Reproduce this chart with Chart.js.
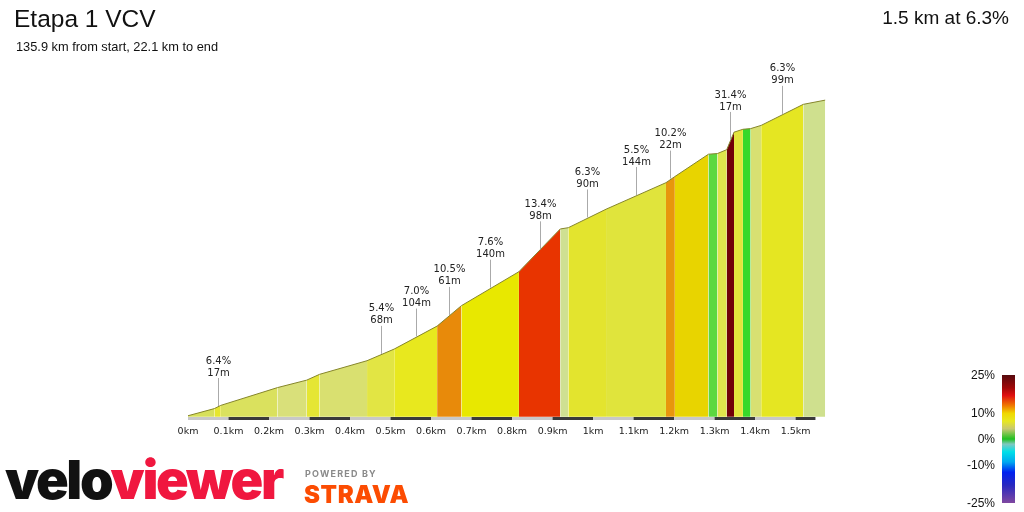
<!DOCTYPE html>
<html>
<head>
<meta charset="utf-8">
<script src="https://cdn.jsdelivr.net/npm/chart.js@4.4.1/dist/chart.umd.min.js"></script>
<style>
  body { margin: 0; background: #fff; }
  #page { position: relative; width: 1024px; height: 512px; overflow: hidden; font-family: "Liberation Sans", Arial, sans-serif; color: #111; }
  #profile { position: absolute; left: 0; top: 0; }
  .title { position: absolute; left: 14px; top: 7px; font-size: 24.5px; line-height: 1; white-space: nowrap; }
  .subtitle { position: absolute; left: 16px; top: 41px; font-size: 12.8px; line-height: 1; white-space: nowrap; }
  .summary { position: absolute; right: 15px; top: 8px; font-size: 19px; line-height: 1; white-space: nowrap; }
  .logo { position: absolute; left: 5px; top: 453px; font-family: Inter, Lato, sans-serif; font-weight: 900; font-size: 54px; line-height: 1; letter-spacing: -2.3px; white-space: nowrap; }
  .logo .velo { color: #111; }
  .logo .viewer { color: #f0173f; }
  .powered { position: absolute; left: 305px; top: 469px; font-family: Inter, "Liberation Sans", sans-serif; font-weight: 700; font-size: 9px; line-height: 1; letter-spacing: 1.2px; color: #8a8a8a; white-space: nowrap; }
  .strava { position: absolute; left: 304px; top: 483px; font-family: Inter, "Liberation Sans", sans-serif; font-weight: 900; font-size: 24px; line-height: 1; letter-spacing: 0.6px; color: #fc4c02; white-space: nowrap; }
  .key { position: absolute; left: 1002px; top: 375px; width: 13px; height: 128px; }
  .keylabel { position: absolute; right: 29px; font-size: 12px; line-height: 1; white-space: nowrap; color: #111; }
</style>
</head>
<body>
<div id="page">
  <canvas id="profile" width="1024" height="512"></canvas>
  <div class="title">Etapa 1 VCV</div>
  <div class="subtitle">135.9 km from start, 22.1 km to end</div>
  <div class="summary">1.5 km at 6.3%</div>
  <div class="logo"><span class="velo">velo</span><span class="viewer">viewer</span></div>
  <div class="powered">POWERED BY</div>
  <div class="strava">STRAVA</div>
  <div class="key" id="key"></div>
</div>
<script>
// profile vertices (km from climb start, metres gained)
var distanceKm = [0, 0.065, 0.081, 0.221, 0.293, 0.325, 0.442, 0.509, 0.615, 0.675, 0.817, 0.919, 0.939,
  1.032, 1.180, 1.202, 1.285, 1.307, 1.330, 1.348, 1.370, 1.389, 1.415, 1.519, 1.573];
var elevationM = [0.3, 2.5, 3.5, 9.0, 11.3, 13.1, 17.3, 20.9, 28.0, 34.3, 44.8, 58.0, 58.4,
  64.1, 72.3, 74.2, 81.1, 81.3, 82.5, 87.9, 88.8, 89.0, 90.0, 96.5, 97.8];

// one colour per segment between two vertices, by gradient
var bandColors = ['#d7e05c', '#e6e62e', '#dae15e', '#d9e07a', '#e5e634', '#d9e070', '#e2e544', '#e8e81e',
  '#e88a0a', '#e8e800', '#e83400', '#cfe092', '#e3e42e', '#e0e43c', '#e8960c', '#e8d400',
  '#5cd840', '#dfe44c', '#700008', '#e3e53c', '#38d82a', '#d8e072', '#e5e622', '#cfe08e'];

// labelled segments
var labelSegment = [1, 6, 7, 8, 9, 10, 12, 13, 14, 18, 22];
var labelGrade = ['6.4%', '5.4%', '7.0%', '10.5%', '7.6%', '13.4%', '6.3%', '5.5%', '10.2%', '31.4%', '6.3%'];
var labelLength = ['17m', '68m', '104m', '61m', '140m', '98m', '90m', '144m', '22m', '17m', '99m'];

var tickKm = [0, 0.1, 0.2, 0.3, 0.4, 0.5, 0.6, 0.7, 0.8, 0.9, 1, 1.1, 1.2, 1.3, 1.4, 1.5];
var distanceBarKm = [0, 0.1, 0.2, 0.3, 0.4, 0.5, 0.6, 0.7, 0.8, 0.9, 1, 1.1, 1.2, 1.3, 1.4, 1.5, 1.549];

// gradient key
var keyGrades = [25, 10, 0, -10, -25];
var keyStops = [[25, '#560a0e'], [20, '#a00808'], [17, '#e01010'], [13, '#f07a00'], [10, '#f0d800'],
  [7, '#e8e820'], [4, '#c8c870'], [0, '#20c020'], [-2, '#80c8c0'], [-5, '#00e0e8'], [-9, '#00a8f0'],
  [-13, '#0020f0'], [-18, '#2828c0'], [-25, '#8048a0']];

var key = document.getElementById('key');
key.style.background = 'linear-gradient(to bottom,' + keyStops.map(function (s) {
  return s[1] + ' ' + ((25 - s[0]) / 50 * 100).toFixed(1) + '%';
}).join(',') + ')';
keyGrades.forEach(function (g) {
  var el = document.createElement('div');
  el.className = 'keylabel';
  el.textContent = g + '%';
  el.style.top = (375 + (25 - g) / 50 * 128 - 6) + 'px';
  document.getElementById('page').appendChild(el);
});

var segmentLabels = {
  id: 'segmentLabels',
  afterDatasetsDraw: function (chart) {
    var ctx = chart.ctx, xs = chart.scales.x, ys = chart.scales.y;
    ctx.save();
    ctx.font = '10px "DejaVu Sans"';
    ctx.textAlign = 'center';
    ctx.textBaseline = 'middle';
    labelSegment.forEach(function (s, i) {
      var px = Math.round(xs.getPixelForValue((distanceKm[s] + distanceKm[s + 1]) / 2)) + 0.5;
      var py = ys.getPixelForValue((elevationM[s] + elevationM[s + 1]) / 2);
      ctx.strokeStyle = '#aaaaaa';
      ctx.lineWidth = 1;
      ctx.beginPath();
      ctx.moveTo(px, py - 1);
      ctx.lineTo(px, py - 29);
      ctx.stroke();
      ctx.fillStyle = '#222';
      ctx.fillText(labelGrade[i], px, py - 46);
      ctx.fillText(labelLength[i], px, py - 34);
    });
    ctx.restore();
  }
};

new Chart(document.getElementById('profile'), {
  type: 'line',
  data: {
    datasets: [{
      data: distanceBarKm.map(function (d) { return { x: d, y: -0.55 }; }),
      borderWidth: 3,
      borderColor: '#c8c8c8',
      pointRadius: 0,
      fill: false,
      segment: {
        borderColor: function (c) { return c.p0DataIndex % 2 ? '#3a3a3a' : '#c8c8c8'; }
      }
    }, {
      data: distanceKm.map(function (d, i) { return { x: d, y: elevationM[i] }; }),
      borderColor: '#85852a',
      borderWidth: 1,
      backgroundColor: bandColors[0],
      pointRadius: 0,
      tension: 0,
      fill: 'origin',
      segment: {
        backgroundColor: function (c) { return bandColors[c.p0DataIndex]; }
      }
    }]
  },
  options: {
    responsive: false,
    animation: false,
    devicePixelRatio: 1,
    layout: { padding: { left: 188, right: 196, top: 60, bottom: 70 } },
    plugins: { legend: { display: false }, tooltip: { enabled: false } },
    scales: {
      x: {
        type: 'linear',
        min: 0,
        max: 1.58,
        grid: { display: false, drawTicks: false },
        border: { display: false },
        afterBuildTicks: function (axis) {
          axis.ticks = tickKm.map(function (v) { return { value: v }; });
        },
        ticks: {
          autoSkip: false,
          maxRotation: 0,
          padding: 5,
          color: '#222',
          font: { family: '"DejaVu Sans"', size: 9.5 },
          callback: function (v) { return (Math.round(v * 10) / 10) + 'km'; }
        }
      },
      y: {
        display: false,
        min: -1.2,
        max: 110.2
      }
    }
  },
  plugins: [segmentLabels]
});
</script>
</body>
</html>
